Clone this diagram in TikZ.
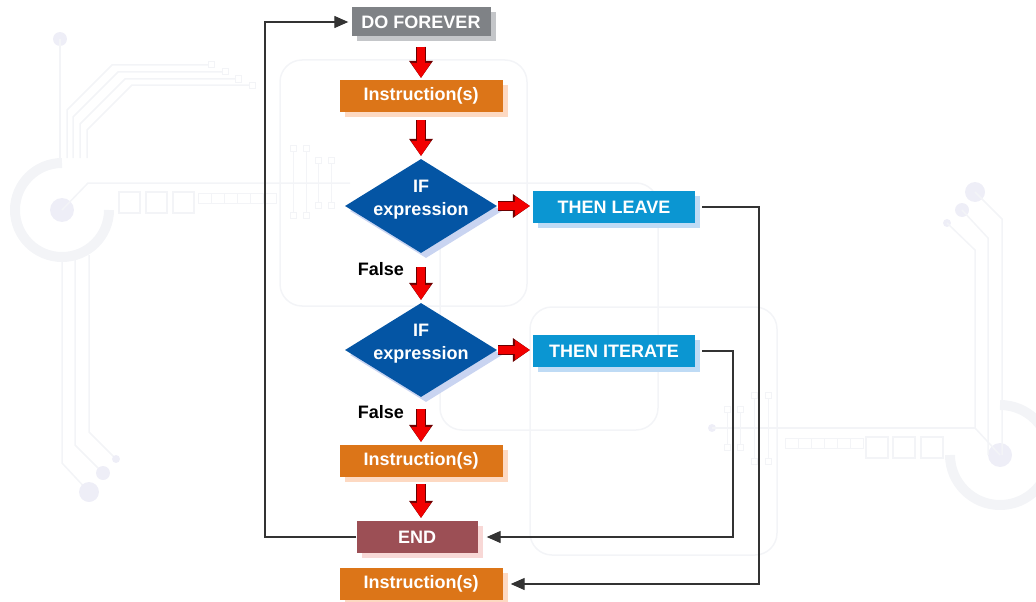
\documentclass[tikz,border=0pt]{standalone}
\usepackage{fontspec}
\setmainfont{Liberation Sans}
\usetikzlibrary{positioning,shapes.geometric,shadows,arrows.meta}

\definecolor{forevergray}{HTML}{7F8286}
\definecolor{forevershade}{HTML}{C4C6C9}
\definecolor{instrorange}{HTML}{DC7518}
\definecolor{instrshade}{HTML}{FDD9C2}
\definecolor{ifblue}{HTML}{0455A4}
\definecolor{ifshade}{HTML}{C9D4F1}
\definecolor{thencyan}{HTML}{0B96D2}
\definecolor{thenshade}{HTML}{BFDBF5}
\definecolor{endred}{HTML}{9C4F55}
\definecolor{endshade}{HTML}{F8D8D6}
\definecolor{flowred}{HTML}{F20000}
\definecolor{flowedge}{HTML}{6B0000}
\definecolor{loopgray}{HTML}{333333}
\definecolor{circuit}{HTML}{F3F4F7}
\definecolor{circuitdot}{HTML}{EEEEF7}

\begin{document}
\begin{tikzpicture}[
  x=1pt, y=-1pt,
  font=\fontsize{18}{23}\selectfont\bfseries,
  block/.style={
    rectangle,
    text=white,
    inner sep=0pt,
    minimum width=163pt,
    minimum height=32pt
  },
  foreverblock/.style={
    block,
    fill=forevergray,
    minimum width=139pt,
    minimum height=29pt,
    drop shadow={fill=forevershade,opacity=1,shadow xshift=5pt,shadow yshift=-5pt}
  },
  instrblock/.style={
    block,
    fill=instrorange,
    drop shadow={fill=instrshade,opacity=1,shadow xshift=5pt,shadow yshift=-5pt}
  },
  thenblock/.style={
    block,
    fill=thencyan,
    minimum width=162pt,
    drop shadow={fill=thenshade,opacity=1,shadow xshift=5pt,shadow yshift=-5pt}
  },
  endblock/.style={
    block,
    fill=endred,
    minimum width=121pt,
    drop shadow={fill=endshade,opacity=1,shadow xshift=5pt,shadow yshift=-5pt}
  },
  ifblock/.style={
    diamond,
    inner sep=0pt,
    fill=ifblue,
    minimum width=152pt,
    minimum height=94pt,
    drop shadow={fill=ifshade,opacity=1,shadow xshift=5pt,shadow yshift=-5pt},
    label={[text=white,align=center,yshift=6pt]center:IF\\expression}
  },
  falselabel/.style={text=black, inner sep=0pt, anchor=east},
  flowarrow/.style={
    draw=flowred,
    line width=8pt,
    -{Triangle[width=20pt,length=15pt,line width=0pt]},
    shorten <=10pt, shorten >=2pt,
    preaction={draw=flowedge, line width=10pt,
      -{Triangle[width=24pt,length=17pt,line width=0pt]}}
  },
  loopline/.style={
    draw=loopgray,
    line width=1.3pt,
    -{Triangle[width=12pt,length=14pt]}
  },
  trace/.style={draw=circuit, line width=1.5pt},
  pin/.style={draw=circuit, line width=1pt, fill=white}]
  \useasboundingbox (0,0) rectangle (1036,602);

  % background
  \draw[trace, rounded corners=22pt] (280,60) rectangle (527,306);
  \draw[trace, rounded corners=22pt] (440,183) rectangle (658,430);
  \draw[trace, rounded corners=22pt] (530,307) rectangle (777,555);
  % left circuit
  \draw[circuit, line width=10pt] (62,163) arc[start angle=-90, end angle=-360, radius=47];
  \fill[circuitdot] (62,210) circle[radius=12pt];
  \fill[circuitdot] (60,39) circle[radius=7pt];
  \draw[trace] (60,39) -- (60,158);
  \draw[trace] (62,210) -- (88,183) -- (350,183);
  \foreach \vx/\hy/\hx in {67/65/208,73/72/222,80/79/235,87/85/249} {
    \draw[trace] (\vx,158) -- (\vx,110+\hy-65) -- (112+\vx-67,\hy) -- (\hx,\hy);
    \draw[pin] (\hx,\hy-3) rectangle ++(6,6);
  }
  \draw[trace] (62,262) -- (62,463) -- (89,492);
  \draw[trace] (75,260) -- (75,445) -- (103,473);
  \draw[trace] (89,255) -- (89,432) -- (116,459);
  \fill[circuitdot] (89,492) circle[radius=10pt];
  \fill[circuitdot] (103,473) circle[radius=7pt];
  \fill[circuitdot] (116,459) circle[radius=4pt];
  \foreach \sx in {119,146,173} \draw[trace] (\sx,192) rectangle ++(21,21);
  \foreach \sx in {198,211,224,237,250,263} \draw[trace, line width=1pt] (\sx,193) rectangle ++(13,10);
  \foreach \px/\ptop/\pbot in {293/148/215,306/148/215,318/160/205,331/160/205} {
    \draw[trace, line width=1pt] (\px,\ptop) -- (\px,\pbot);
    \draw[pin] (\px-3,\ptop-3) rectangle ++(6,6);
    \draw[pin] (\px-3,\pbot-3) rectangle ++(6,6);
  }
  % right circuit
  \draw[circuit, line width=10pt] (950,455) arc[start angle=-180, end angle=-450, radius=50];
  \fill[circuitdot] (1000,455) circle[radius=12pt];
  \fill[circuitdot] (975,192) circle[radius=10pt];
  \fill[circuitdot] (962,210) circle[radius=7pt];
  \fill[circuitdot] (947,223) circle[radius=4pt];
  \fill[circuitdot] (712,428) circle[radius=4pt];
  \draw[trace] (975,192) -- (1002,219) -- (1002,455);
  \draw[trace] (962,210) -- (988,238) -- (988,455);
  \draw[trace] (947,223) -- (975,250) -- (975,428) -- (1000,455);
  \draw[trace] (712,428) -- (975,428);
  \foreach \sx in {866,893,921} \draw[trace] (\sx,437) rectangle ++(22,21);
  \foreach \sx in {785,798,811,824,837,850} \draw[trace, line width=1pt] (\sx,438) rectangle ++(13,10);
  \foreach \px/\ptop/\pbot in {727/409/447,740/409/447,754/395/461,768/395/461} {
    \draw[trace, line width=1pt] (\px,\ptop) -- (\px,\pbot);
    \draw[pin] (\px-3,\ptop-3) rectangle ++(6,6);
    \draw[pin] (\px-3,\pbot-3) rectangle ++(6,6);
  }

  % main column
  \node (forever) [foreverblock] at (421,22) {DO FOREVER};
  \node (instr1) [instrblock] at (421,96) {Instruction(s)};
  \node (if1) [ifblock] at (421,206) {};
  \node (leave) [thenblock] at (614,207) {THEN LEAVE};
  \node (false1) [falselabel] at (404,269) {False};
  \node (if2) [ifblock] at (421,350) {};
  \node (iterate) [thenblock] at (614,351) {THEN ITERATE};
  \node (false2) [falselabel] at (404,412) {False};
  \node (instr2) [instrblock] at (421,461) {Instruction(s)};
  \node (doend) [endblock] at (417,537) {END};
  \node (instr3) [instrblock] at (421,584) {Instruction(s)};

  % red flow
  \draw[flowarrow] (forever) -- (instr1);
  \draw[flowarrow, shorten <=8pt, shorten >=3pt] (instr1) -- (if1);
  \draw[flowarrow, shorten <=1pt, shorten >=3pt] (if1.east) -- (if1.east -| leave.west);
  \draw[flowarrow, shorten <=14pt, shorten >=3pt] (if1) -- (if2);
  \draw[flowarrow, shorten <=1pt, shorten >=3pt] (if2.east) -- (if2.east -| iterate.west);
  \draw[flowarrow, shorten <=12pt, shorten >=3pt] (if2) -- (instr2);
  \draw[flowarrow, shorten <=7pt, shorten >=3pt] (instr2.south) -- (instr2.south |- doend.north);

  % loops
  \coordinate (leaveturn) at (759,207);
  \coordinate (iterateturn) at (733,351);
  \coordinate (foreverturn) at (265,537);
  \draw[loopline] ([xshift=7pt]leave.east) -- (leaveturn) |- ([xshift=8pt]instr3.east);
  \draw[loopline] ([xshift=7pt]iterate.east) -- (iterateturn) |- ([xshift=9pt]doend.east);
  \draw[loopline] (doend.west) -- (foreverturn) |- ([xshift=-3pt]forever.west);

\end{tikzpicture}
\end{document}
